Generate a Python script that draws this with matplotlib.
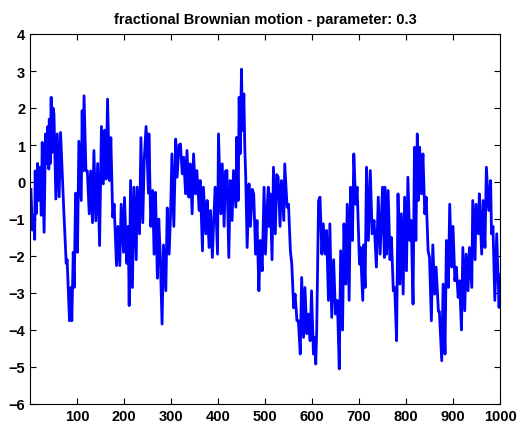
import numpy as np
import matplotlib
matplotlib.use('Agg')
import matplotlib.pyplot as plt

# sample index / value pairs of the path, in four stretches
idx1 = [2, 5, 8, 10, 11, 13, 16, 18, 21, 24, 26, 30, 33, 35, 38, 40, 41, 43, 45, 47,
        49, 51, 55, 58, 62, 65, 70, 72, 77, 79, 84, 87, 89, 92, 94, 97, 101, 104, 109, 111,
        113, 115, 119, 122, 126, 129, 133, 136, 140, 144, 148, 152, 156, 159, 162, 165, 169, 172, 176, 179,
        184, 187, 191, 194, 199, 201, 206, 209, 211, 214, 218, 221, 226, 228, 233, 236, 240, 243, 247, 252]
val1 = [-0.2, -1.3, -0.9, -1.55, 0.3, -0.86, 0.5, -0.5, 0.4, -0.9, 1.07, -1.36, 1.3, 0.5, 1.5, 0.35, 1.7, 0.5, 2.29, 0.8,
        2.0, 1.84, -0.46, 1.3, -0.4, 1.34, -0.23, -0.8, -2.2, -2.1, -3.75, -2.85, -3.75, -1.9, -2.85, -0.3, -1.9, 1.1, -0.5, 1.93,
        0.3, 2.33, 0.3, 0.3, -0.86, 0.3, -1.1, 0.85, -1.05, 0.5, -1.72, 1.5, -0.05, 1.4, 0.08, 2.24, 0.04, 1.2, -0.95, -0.6,
        -2.26, -1.2, -2.26, -0.6, -1.9, -0.42, -2.2, -1.2, -3.34, 0.04, -2.85, -0.14, -2.1, -0.14, -1.4, 1.2, -1.1, 0.6, 1.5, -0.3]

idx2 = [253, 257, 261, 264, 267, 271, 274, 277, 281, 284, 289, 292, 296, 299, 302, 306, 310, 313, 317, 320,
        324, 327, 331, 334, 338, 341, 345, 348, 352, 355, 360, 362, 367, 369, 374, 377, 381, 384, 388, 391,
        394, 399, 401, 406, 409, 413, 416, 419, 423, 426, 430, 433, 438, 440, 443, 445, 447, 450, 452, 455,
        457, 459, 462, 466, 469, 473, 476, 480, 483, 487, 490, 494, 498, 501, 505]
val2 = [1.3, -1.2, -0.23, -1.95, -0.28, -2.6, -1.0, -1.95, -3.84, -1.7, -2.94, -0.7, -1.95, -0.9, 0.76, -1.2, 1.16, 0.13, 1.0, 1.03,
        0.22, 0.67, -0.32, 0.85, -0.41, 0.49, -0.86, 0.76, -0.32, 0.31, -0.77, 0.04, -1.86, -0.14, -1.4, -0.5, -1.77, -0.77, -2.04, -1.0,
        -0.14, -1.95, 1.3, -0.86, 0.49, -1.2, 0.3, 0.31, -2.04, 0.04, -1.04, 0.31, -0.68, 1.21, -0.5, 2.29, 0.76, 3.05, 1.39, 2.38,
        0.94, 0.13, -1.77, -0.05, -1.2, -0.2, -0.32, -1.95, -1.04, -2.94, -1.58, -2.4, -0.14, -1.95, -0.6]

idx3 = [507, 509, 511, 515, 518, 522, 525, 528, 532, 535, 540, 542, 547, 550, 554, 557, 561, 564, 568, 571,
        575, 578, 582, 585, 589, 592, 596, 599, 603, 606, 608, 610, 614, 617, 621, 624, 628, 631, 635, 638,
        642, 646, 650, 654, 658, 661, 665, 668, 672, 675, 679, 682, 686, 689, 693, 696, 701, 703, 708, 710,
        713, 716, 720, 724, 728, 732, 737, 741, 745, 750, 754]
val3 = [-0.14, -1.2, -0.32, -2.1, 0.4, -1.4, 0.2, 0.13, -1.2, 0.04, -1.04, 0.49, -0.68, -0.6, -1.86, -2.22, -3.4, -3.03, -3.75, -3.75,
        -4.65, -2.58, -4.2, -2.85, -4.1, -3.57, -4.29, -2.94, -4.65, -4.2, -4.92, -4.0, -0.5, -0.41, -1.95, -1.13, -1.95, -1.31, -3.2, -1.13,
        -3.66, -2.1, -3.57, -3.2, -5.05, -1.86, -4.0, -1.13, -2.76, -0.6, -3.2, -0.14, -1.58, 0.76, -0.6, -0.14, -2.22, -1.77, -3.2, -1.7,
        -2.85, 0.4, -1.58, 0.31, -1.4, -1.04, -2.3, -0.41, -1.95, -0.14, -2.04]

idx4 = [755, 759, 762, 766, 769, 773, 776, 780, 783, 787, 790, 794, 797, 801, 804, 808, 811, 815, 818, 821,
        824, 826, 829, 833, 836, 840, 843, 847, 850, 854, 857, 861, 864, 869, 871, 876, 879, 883, 886, 890,
        893, 897, 900, 904, 907, 911, 914, 918, 921, 925, 928, 932, 935, 940, 942, 947, 949, 954, 956, 961,
        964, 968, 971, 976, 980, 982, 985, 989, 993, 998, 1000]
val4 = [-0.14, -1.95, -0.23, -2.1, -1.5, -2.94, -2.85, -4.29, -0.32, -2.76, -0.86, -3.03, -0.41, -2.4, 0.13, -1.58, -1.04, -3.3, 0.94, -1.58,
        1.3, -0.5, 0.94, -0.32, 0.76, -0.86, -0.41, -1.86, -2.04, -3.75, -1.7, -3.03, -2.3, -3.5, -3.5, -4.83, -2.76, -4.65, -1.58, -2.85,
        -0.6, -2.3, -1.2, -2.67, -2.3, -3.12, -2.67, -4.0, -1.77, -3.48, -1.95, -2.94, -1.77, -2.85, -0.5, -2.1, -0.6, -1.4, -0.32, -1.95,
        -0.5, -1.77, 0.4, -0.77, 0.04, -1.4, -1.2, -3.2, -1.4, -3.39, -2.5]

xticks = [100, 200, 300, 400, 500, 600, 700, 800, 900, 1000]
yticks = [-6, -5, -4, -3, -2, -1, 0, 1, 2, 3, 4]

t = np.array(idx1 + idx2 + idx3 + idx4)
w = np.array(val1 + val2 + val3 + val4)

plt.rcParams['font.family'] = ['Liberation Sans', 'DejaVu Sans']
fig = plt.figure(figsize=[5.19, 4.27], dpi=100)
ax = fig.add_axes([30/519, 22/427, 470/519, 370/427])
ax.plot(t, w, color=(0, 0, 1), linewidth=2)
ax.set_xlim(0, 1000)
ax.set_ylim(-6, 4)
ax.set_xticks(xticks)
ax.set_yticks(yticks)
ax.tick_params(direction='in', length=4, top=True, right=True, labelsize=10.5)
for lab in ax.get_xticklabels() + ax.get_yticklabels():
    lab.set_fontweight('bold')
ax.set_title('fractional Brownian motion - parameter: 0.3', fontsize=10.5, fontweight='bold', pad=8)
plt.savefig('out.png', dpi=100)
